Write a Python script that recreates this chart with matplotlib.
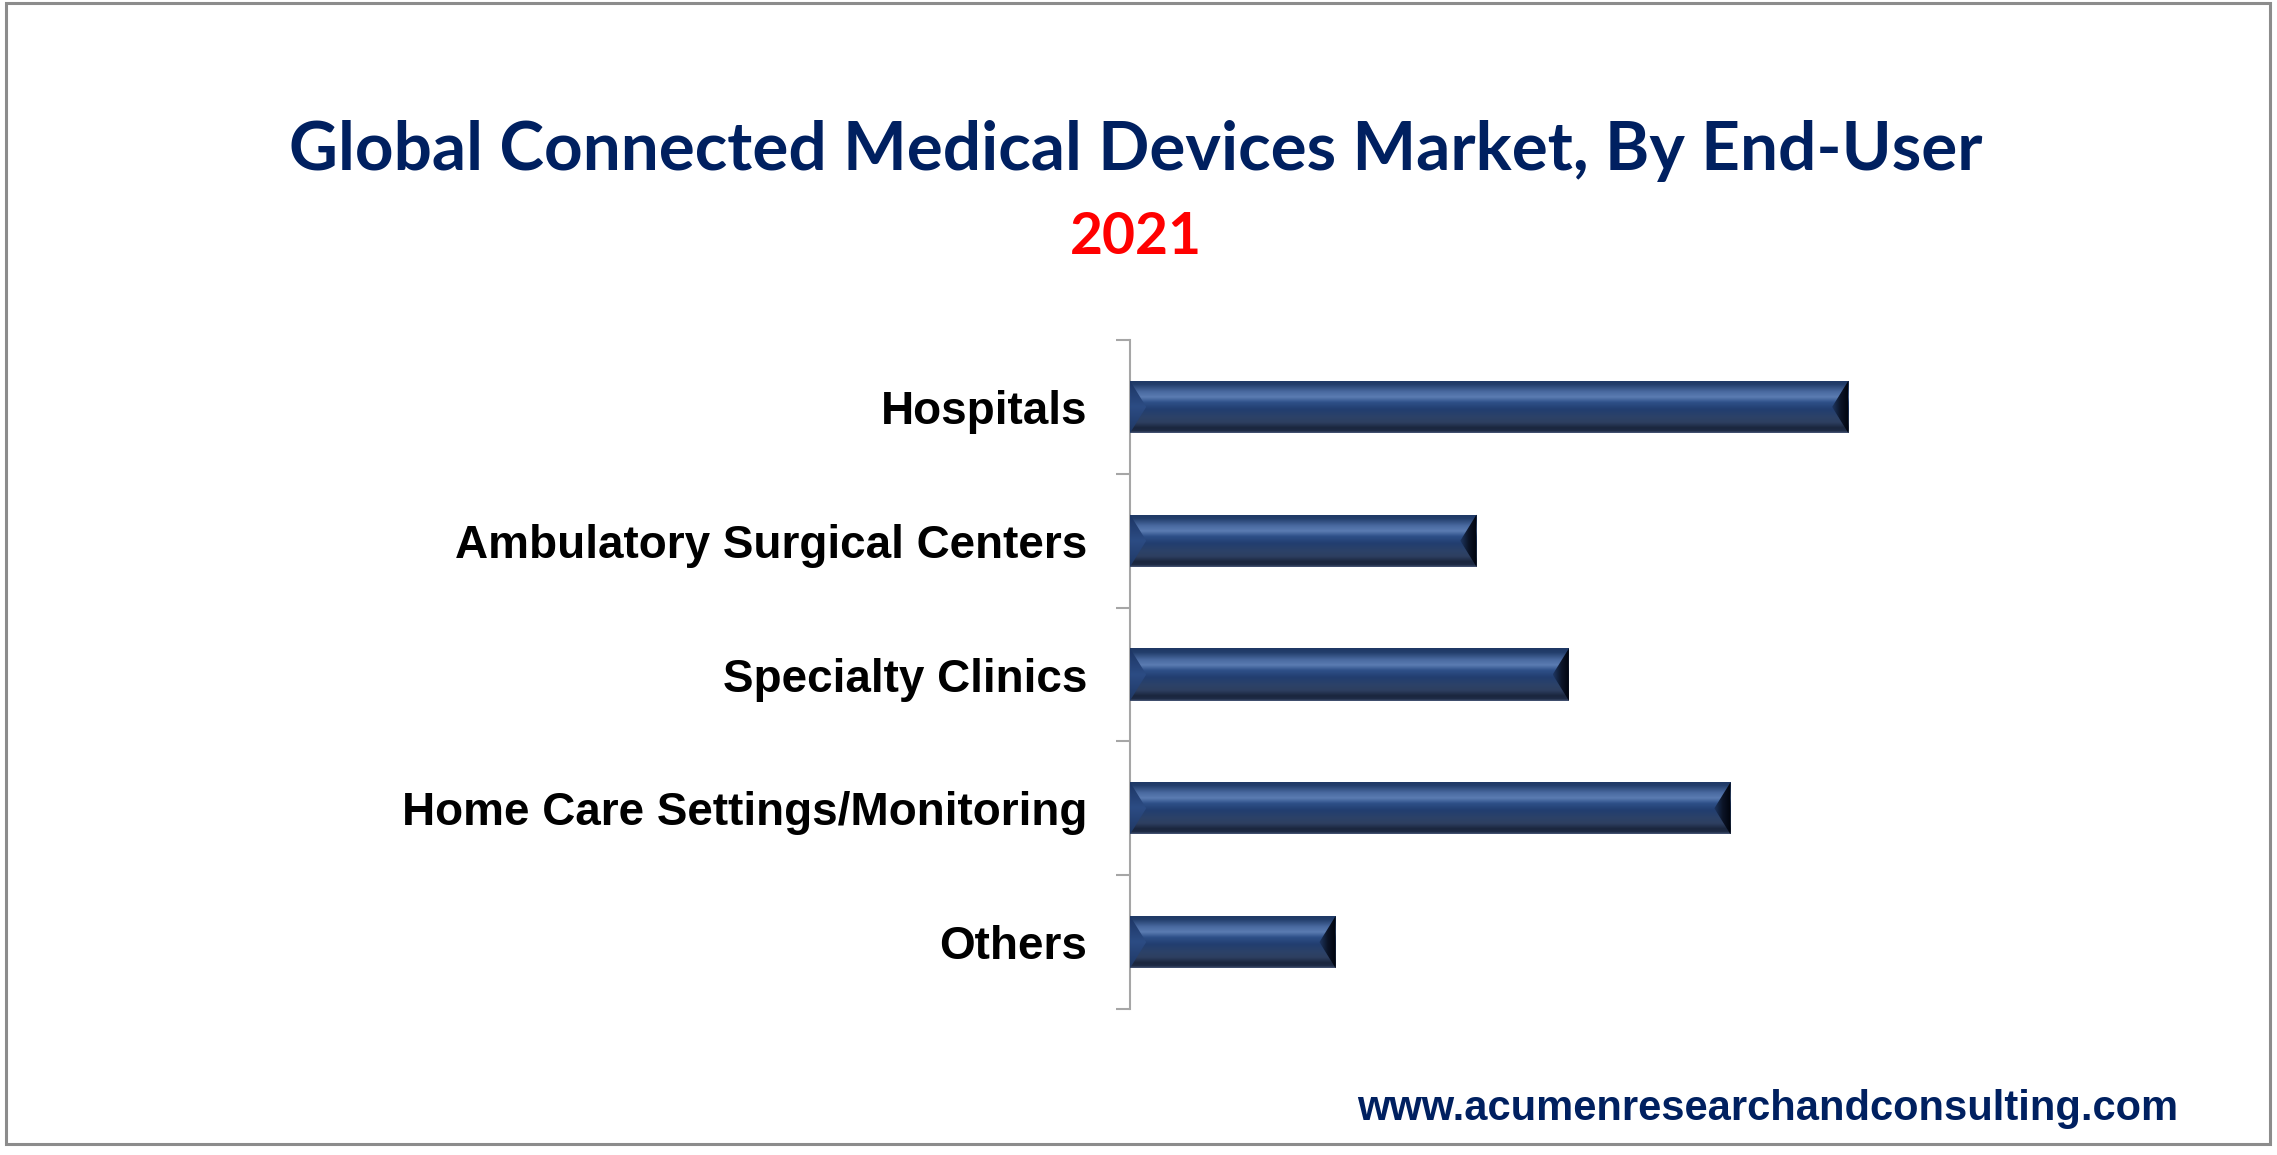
import numpy as np
import matplotlib
matplotlib.use('Agg')
import matplotlib.pyplot as plt
from matplotlib.colors import LinearSegmentedColormap
from matplotlib.patches import Rectangle, Polygon

categories = ['Hospitals', 'Ambulatory Surgical Centers', 'Specialty Clinics',
              'Home Care Settings/Monitoring', 'Others']
share = [31.1, 15.0, 19.0, 26.0, 8.9]  # % share

title = 'Global Connected Medical Devices Market, By End-User'
year = '2021'
site = 'www.acumenresearchandconsulting.com'

navy = '#002060'

# vertical shading of the bevelled bars, top -> bottom
bar_cmap = LinearSegmentedColormap.from_list('bevel', [
    (0.00, '#1f3864'), (0.08, '#223d6b'), (0.22, '#4a6aa0'), (0.32, '#5b7cb2'),
    (0.42, '#2e5088'), (0.55, '#223e70'), (0.70, '#2c4268'), (0.80, '#2e3f60'),
    (0.90, '#1a263e'), (0.96, '#1e2b45'), (1.00, '#4a5878')])
right_cmap = LinearSegmentedColormap.from_list('rcap', ['#1f3864', '#0c1528', '#00040c'])
left_cmap = LinearSegmentedColormap.from_list('lcap', ['#1c3462', '#2c4c84', '#1f3864'])

fig = plt.figure(figsize=(22.77, 11.55), dpi=100)
ax = fig.add_axes([0.4963, 0.1264, 0.4057, 0.5792])

n = len(categories)
ypos = np.arange(n)[::-1]
h = 0.39
bevel = 0.7
grad_v = np.linspace(0, 1, 256).reshape(-1, 1)
grad_h = np.linspace(0, 1, 256).reshape(1, -1)

bars = ax.barh(ypos, share, height=h, color='#1f3864', zorder=2)
for b, y, v in zip(bars, ypos, share):
    y0, y1 = y - h / 2, y + h / 2
    im = ax.imshow(grad_v, cmap=bar_cmap, extent=(0, v, y0, y1), origin='upper',
                   aspect='auto', zorder=3, interpolation='bilinear')
    im.set_clip_path(b)
    # left bevel
    lp = Polygon([(0, y0), (bevel, y), (0, y1)], closed=True, fc='none', ec='none')
    ax.add_patch(lp)
    im2 = ax.imshow(grad_v, cmap=left_cmap, extent=(0, bevel, y0, y1), aspect='auto',
                    zorder=4, interpolation='bilinear')
    im2.set_clip_path(lp)
    # right bevel
    rp = Polygon([(v, y0), (v - bevel, y), (v, y1)], closed=True, fc='none', ec='none')
    ax.add_patch(rp)
    im3 = ax.imshow(grad_h, cmap=right_cmap, extent=(v - bevel, v, y0, y1), aspect='auto',
                    zorder=4, interpolation='bilinear')
    im3.set_clip_path(rp)

ax.set_xlim(0, 40)
ax.set_ylim(-0.5, n - 0.5)

for s in ['top', 'right', 'bottom']:
    ax.spines[s].set_visible(False)
ax.spines['left'].set_color('#a6a6a6')
ax.spines['left'].set_linewidth(1.5)
ax.set_xticks([])
ax.set_yticks(ypos)
ax.set_yticklabels(categories, fontsize=33, fontweight='bold',
                   family='Liberation Sans', color='black')
ax.set_yticks(np.arange(-0.5, n, 1.0), minor=True)
ax.tick_params(axis='y', which='major', length=0, pad=31)
ax.tick_params(axis='y', which='minor', length=10, width=1.5, color='#a6a6a6')

fig.text(0.499, 0.869, title, ha='center', va='center', fontsize=48.5,
         fontweight='bold', color=navy, family='Lato')
fig.text(0.499, 0.794, year, ha='center', va='center', fontsize=41,
         fontweight='bold', color='#ff0000', family='Lato')
fig.text(0.7765, 0.040, site, ha='center', va='center', fontsize=30,
         fontweight='bold', color=navy, family='Liberation Sans')

fig.patches.append(Rectangle((0.0025, 0.0095), 0.9945, 0.9875, transform=fig.transFigure,
                             fill=False, ec='#8c8c8c', lw=2.2))

fig.savefig('out.png', dpi=100)
